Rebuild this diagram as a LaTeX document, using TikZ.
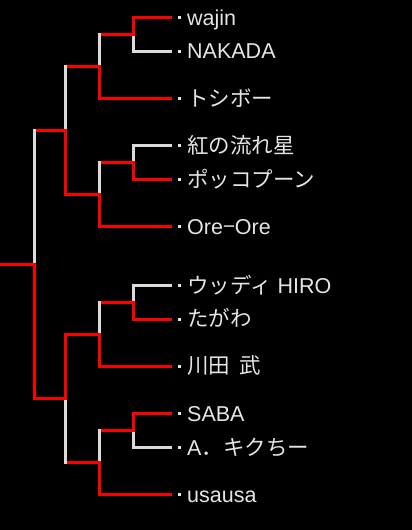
\documentclass[tikz,border=0pt]{standalone}
\usepackage{fontspec}
\setmainfont{Liberation Sans}
\newfontfamily\jp{Noto Sans CJK JP}
\usepackage{tikz}
\definecolor{winred}{rgb}{1, 0, 0}
\definecolor{losegray}{rgb}{0.86, 0.86, 0.86}
\definecolor{nametxt}{rgb}{0.9, 0.9, 0.9}
\tikzstyle{win}=[draw=winred, line width=3pt, line cap=rect]
\tikzstyle{lose}=[draw=losegray, line width=3pt, line cap=rect]
\tikzstyle{pip}=[fill=nametxt, inner sep=0pt, minimum size=3pt]
\tikzstyle{player}=[anchor=base west, inner sep=0pt, text=nametxt, font=\fontsize{21.5}{24}\selectfont]

\begin{document}
\begin{tikzpicture}[x=1pt, y=-1pt]

\useasboundingbox (0,0) rectangle (412,530);
\fill[black] (0,0) rectangle (412,530);

% leaf ends
\coordinate (a) at (170.3, 17.3);
\coordinate (b) at (170.3, 51);
\coordinate (c) at (170.3, 98.3);
\coordinate (d) at (170.3, 145.7);
\coordinate (e) at (170.3, 179.3);
\coordinate (f) at (170.3, 226.7);
\coordinate (g) at (170.3, 285.7);
\coordinate (h) at (170.3, 319);
\coordinate (i) at (170.3, 366);
\coordinate (j) at (170.3, 413.3);
\coordinate (k) at (170.3, 447.3);
\coordinate (l) at (170.3, 494.3);

% match points
\coordinate (ab) at (133.3, 34.4);
\coordinate (abc) at (99.5, 66.4);
\coordinate (de) at (133.3, 162.5);
\coordinate (def) at (99.5, 194.6);
\coordinate (top) at (65.3, 130.4);
\coordinate (gh) at (133.3, 302.4);
\coordinate (ghi) at (99.5, 334.2);
\coordinate (jk) at (133.3, 430.3);
\coordinate (jkl) at (99.5, 462.3);
\coordinate (bot) at (65.3, 398.2);
\coordinate (final) at (34.5, 264.5);
\coordinate (start) at (0, 264.5);

% first round
\draw[lose] (ab) |- (b);
\draw[win] (ab) |- (a);
\draw[lose] (de) |- (d);
\draw[win] (de) |- (e);
\draw[lose] (gh) |- (g);
\draw[win] (gh) |- (h);
\draw[lose] (jk) |- (k);
\draw[win] (jk) |- (j);

% second round
\draw[win] (abc |- ab) -- (ab);
\draw[lose] (abc) -- (abc |- ab);
\draw[win] (abc) |- (c);
\draw[win] (def |- de) -- (de);
\draw[lose] (def) -- (def |- de);
\draw[win] (def) |- (f);
\draw[win] (ghi |- gh) -- (gh);
\draw[lose] (ghi) -- (ghi |- gh);
\draw[win] (ghi) |- (i);
\draw[win] (jkl |- jk) -- (jk);
\draw[lose] (jkl) -- (jkl |- jk);
\draw[win] (jkl) |- (l);

% semi finals
\draw[win] (top |- abc) -- (abc);
\draw[lose] (top) -- (top |- abc);
\draw[win] (top) |- (def);
\draw[win] (bot |- jkl) -- (jkl);
\draw[lose] (bot) -- (bot |- jkl);
\draw[win] (bot) |- (ghi);

% final
\draw[win] (final |- top) -- (top);
\draw[lose] (final) -- (final |- top);
\draw[win] (final) |- (bot);
\draw[win] (start) -- (final);

% players
\node[pip] (pa) at (179.7, 17.3) {};
\node[pip] (pb) at (179.7, 51) {};
\node[pip] (pc) at (179.7, 98.3) {};
\node[pip] (pd) at (179.7, 145.7) {};
\node[pip] (pe) at (179.7, 179.3) {};
\node[pip] (pf) at (179.7, 226.7) {};
\node[pip] (pg) at (179.7, 285.7) {};
\node[pip] (ph) at (179.7, 319) {};
\node[pip] (pi) at (179.7, 366) {};
\node[pip] (pj) at (179.7, 413.3) {};
\node[pip] (pk) at (179.7, 447.3) {};
\node[pip] (pl) at (179.7, 494.3) {};

\node[player] (na) at (187, 25.1) {wajin};
\node[player] (nb) at (187, 58.8) {NAKADA};
\node[player] (nc) at (187, 106.1) {\jp トシボー};
\node[player] (nd) at (187, 153.5) {\jp 紅の流れ星};
\node[player] (ne) at (187, 187.1) {\jp ポッコプーン};
\node[player] (nf) at (187, 234.5) {Ore{\jp −}Ore};
\node[player] (ng) at (187, 293.5) {{\jp ウッディ} HIRO};
\node[player] (nh) at (187, 326.8) {\jp たがわ};
\node[player] (ni) at (187, 373.8) {\jp 川田\hspace{0.45em}武};
\node[player] (nj) at (187, 421.1) {SABA};
\node[player] (nk) at (187, 455.1) {A{\jp ．キクちー}};
\node[player] (nl) at (187, 502.1) {usausa};

\end{tikzpicture}
\end{document}
